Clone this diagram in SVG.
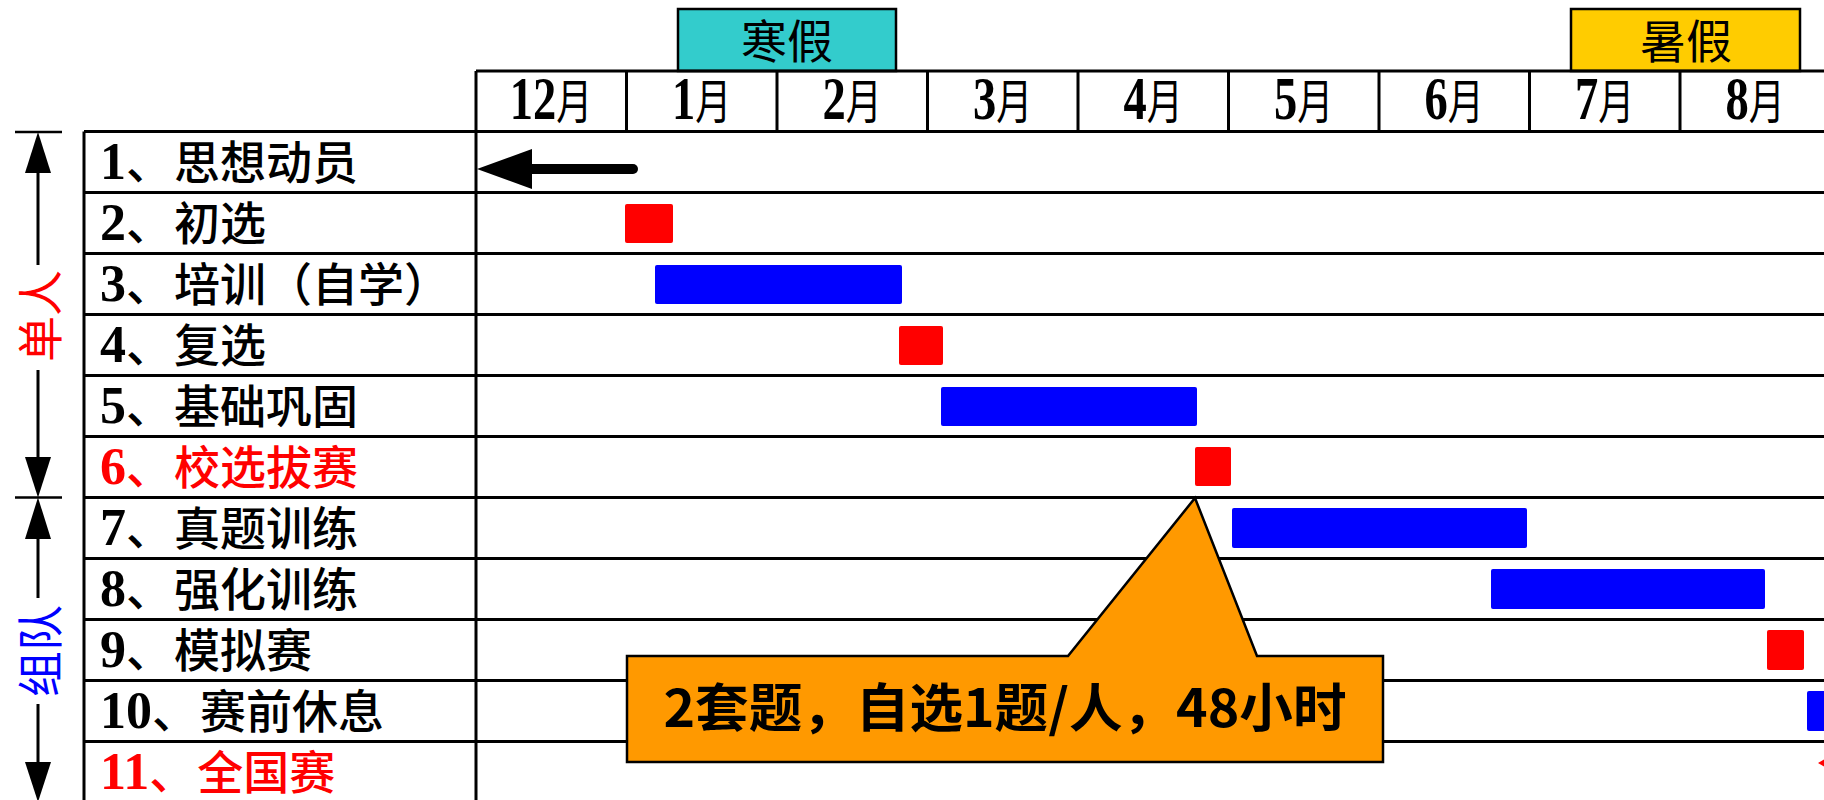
<svg xmlns="http://www.w3.org/2000/svg" width="1824" height="800" viewBox="0 0 1824 800">
<style>
.ln{stroke:#000;stroke-width:3;fill:none}
.thin{stroke:#000;stroke-width:2.5;fill:none}
.lbl{font-family:"Noto Sans CJK SC","Liberation Serif",sans-serif;font-size:46px;font-weight:500;fill:#000}
.num{font-family:"Liberation Serif","Noto Sans CJK SC",serif;font-weight:bold;font-size:52px}
.red{fill:#FF0000}
.mon{font-family:"Noto Sans CJK SC",sans-serif;font-size:48px;fill:#000}
.md{font-family:"Liberation Serif",serif;font-weight:bold;font-size:62px}
.hol{font-family:"Noto Sans CJK SC",sans-serif;font-size:46px;fill:#000}
.rb{fill:#FF0000}
.bb{fill:#0000FF}
.side{font-family:"Noto Sans CJK SC",sans-serif;font-size:46px}
</style>
<rect width="1824" height="800" fill="#fff"/>

<g id="holiday-winter">
<rect x="678" y="9" width="218" height="62" fill="#33CCCC" stroke="#000" stroke-width="2.5"/>
<text class="hol" x="787" y="58" text-anchor="middle">寒假</text>
</g>
<g id="holiday-summer">
<rect x="1571" y="9" width="229" height="62" fill="#FFCC00" stroke="#000" stroke-width="2.5"/>
<text class="hol" x="1686" y="58" text-anchor="middle">暑假</text>
</g>

<g id="grid">
<path class="ln" d="M476,71H1824 M84,131.5H1824 M84,192.5H1824 M84,253.5H1824 M84,314.5H1824 M84,375.5H1824 M84,436.5H1824 M84,497.5H1824 M84,558.5H1824 M84,619.5H1824 M84,680.5H1824 M84,741.5H1824"/>
<path class="ln" d="M84,131.5V800 M476,71V800 M626.5,71V131.5 M777,71V131.5 M927.5,71V131.5 M1078,71V131.5 M1228.5,71V131.5 M1379,71V131.5 M1529.5,71V131.5 M1680,71V131.5"/>
</g>

<g id="months">
<g transform="translate(551,119) scale(0.75,1)"><text class="mon" text-anchor="middle"><tspan class="md">12</tspan>月</text></g>
<g transform="translate(701.5,119) scale(0.75,1)"><text class="mon" text-anchor="middle"><tspan class="md">1</tspan>月</text></g>
<g transform="translate(852,119) scale(0.75,1)"><text class="mon" text-anchor="middle"><tspan class="md">2</tspan>月</text></g>
<g transform="translate(1002.5,119) scale(0.75,1)"><text class="mon" text-anchor="middle"><tspan class="md">3</tspan>月</text></g>
<g transform="translate(1153,119) scale(0.75,1)"><text class="mon" text-anchor="middle"><tspan class="md">4</tspan>月</text></g>
<g transform="translate(1303.5,119) scale(0.75,1)"><text class="mon" text-anchor="middle"><tspan class="md">5</tspan>月</text></g>
<g transform="translate(1454,119) scale(0.75,1)"><text class="mon" text-anchor="middle"><tspan class="md">6</tspan>月</text></g>
<g transform="translate(1604.5,119) scale(0.75,1)"><text class="mon" text-anchor="middle"><tspan class="md">7</tspan>月</text></g>
<g transform="translate(1755,119) scale(0.75,1)"><text class="mon" text-anchor="middle"><tspan class="md">8</tspan>月</text></g>
</g>

<g id="task1"><text class="lbl" x="100" y="179"><tspan class="num">1</tspan>、<tspan dx="2">思想动员</tspan></text></g>
<g id="task2"><text class="lbl" x="100" y="240"><tspan class="num">2</tspan>、<tspan dx="2">初选</tspan></text>
<rect class="rb" x="625" y="204" width="48" height="39" rx="2"/></g>
<g id="task3"><text class="lbl" x="100" y="301"><tspan class="num">3</tspan>、<tspan dx="2">培训（自学）</tspan></text>
<rect class="bb" x="655" y="265" width="247" height="39" rx="2"/></g>
<g id="task4"><text class="lbl" x="100" y="362"><tspan class="num">4</tspan>、<tspan dx="2">复选</tspan></text>
<rect class="rb" x="899" y="326" width="44" height="39" rx="2"/></g>
<g id="task5"><text class="lbl" x="100" y="423"><tspan class="num">5</tspan>、<tspan dx="2">基础巩固</tspan></text>
<rect class="bb" x="941" y="387" width="256" height="39" rx="2"/></g>
<g id="task6"><text class="lbl red" x="100" y="484"><tspan class="num">6</tspan>、<tspan dx="2">校选拔赛</tspan></text>
<rect class="rb" x="1195" y="447" width="36" height="39" rx="2"/></g>
<g id="task7"><text class="lbl" x="100" y="545"><tspan class="num">7</tspan>、<tspan dx="2">真题训练</tspan></text>
<rect class="bb" x="1232" y="508" width="295" height="40" rx="2"/></g>
<g id="task8"><text class="lbl" x="100" y="606"><tspan class="num">8</tspan>、<tspan dx="2">强化训练</tspan></text>
<rect class="bb" x="1491" y="569" width="274" height="40" rx="2"/></g>
<g id="task9"><text class="lbl" x="100" y="667"><tspan class="num">9</tspan>、<tspan dx="2">模拟赛</tspan></text>
<rect class="rb" x="1767" y="630" width="37" height="40" rx="2"/></g>
<g id="task10"><text class="lbl" x="100" y="728"><tspan class="num">10</tspan>、<tspan dx="2">赛前休息</tspan></text>
<rect class="bb" x="1807" y="691" width="24" height="40" rx="2"/></g>
<g id="task11"><text class="lbl red" x="100" y="789"><tspan class="num">11</tspan>、<tspan dx="2">全国赛</tspan></text>
<polygon class="rb" points="1818,763 1824,759.5 1824,766.5"/></g>

<g id="group-single">
<text class="side red" transform="translate(37,316) rotate(-90)" text-anchor="middle" dominant-baseline="central">单人</text>
</g>
<g id="group-team">
<text class="side" fill="#0000FF" transform="translate(37,651) rotate(-90)" text-anchor="middle" dominant-baseline="central">组队</text>
</g>

<g id="connectors">
<path d="M633,169H530" stroke="#000" stroke-width="10" stroke-linecap="round" fill="none"/>
<polygon points="477,169 532,149 532,189" fill="#000"/>
<path class="thin" d="M15,132H62 M15,497.5H62"/>
<path class="ln" d="M38,173V265 M38,370V457 M38,539V598 M38,704V762"/>
<polygon points="38,132 25,173 51,173" fill="#000"/>
<polygon points="38,497.5 25,457 51,457" fill="#000"/>
<polygon points="38,497.5 25,539 51,539" fill="#000"/>
<polygon points="38,802 25,762 51,762" fill="#000"/>
</g>

<g id="callout">
<polygon points="627,656 1068,656 1195,498 1257,656 1383,656 1383,762 627,762" fill="#FF9900" stroke="#000" stroke-width="2.5" stroke-linejoin="miter"/>
<text x="1005" y="727" text-anchor="middle" font-family="Noto Sans CJK SC, sans-serif" font-weight="bold" font-size="52" fill="#000" textLength="683" lengthAdjust="spacingAndGlyphs">2套题，自选1题/人，48小时</text>
</g>
</svg>
